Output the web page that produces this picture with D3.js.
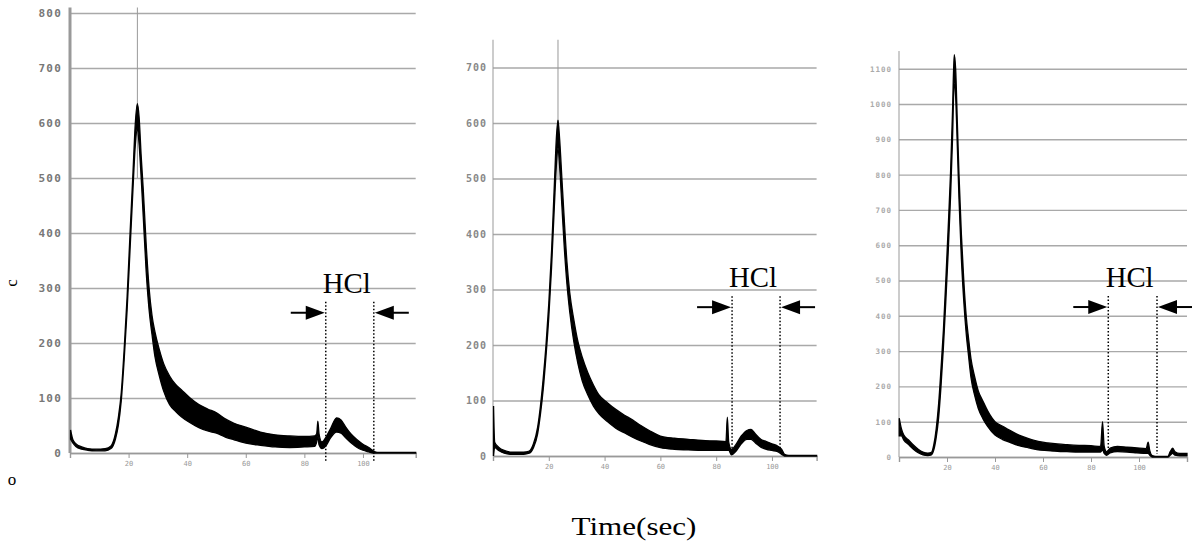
<!DOCTYPE html>
<html>
<head>
<meta charset="utf-8">
<script src="https://cdn.jsdelivr.net/npm/d3@7"></script>
<style>
body{margin:0;background:#fff;}
svg{display:block;}
</style>
</head>
<body>
<div class="chart"></div>
<script>
// 三个谱图的数据（时间 / 下包络 / 上包络）
var time1=[0.2,1,2,4,6,9,12,14,15.5,16.5,17.5,18.5,19.5,20.5,21.5,22.3,23,23.6,24.3,25,26,27,28,29,30.5,32,34,36,38,41,44,47,50,53,56,60,65,70,75,80,83.5,84.2,84.6,85,86,87.5,89,91,92.5,94,96,98,100,102,103.5,105,118];
var low1 =[25,18,12,7,5,4,4,8,25,50,95,170,260,370,480,560,590,560,500,430,330,260,215,175,140,112,88,76,66,55,46,40,36,29,24,18,14,11,10,11,12,20,30,15,8,14,28,38,36,28,18,10,5,2,0,0,0];
var high1=[42,24,17,11,8,7,8,13,35,65,110,190,285,400,510,600,635,610,540,480,380,300,250,220,188,162,140,125,115,100,88,80,73,62,54,47,38,33,31,30,31,35,58,35,20,30,45,64,60,48,34,24,16,10,4,1,1];

var time2=[0.2,0.6,2,4,7,11,13,14.5,16,17,18,19,20,21,22,22.8,23.3,23.9,24.7,25.5,26.5,27.5,29,30.5,32,34,36,38,41,44,47,50,53,56,60,65,70,75,80,83.5,84,84.5,85.5,87,89,91,92.5,94,96,98,100,102,103.5,104.5,106,116];
var low2 =[0,15,10,5,3,3,5,15,40,75,120,180,250,340,450,530,555,520,450,380,310,260,205,165,135,110,90,76,62,50,42,34,27,21,15,12,11,10,10,10,10,10,2,8,22,30,30,24,16,12,10,8,3,0,0,0];
var high2=[90,25,16,10,7,7,9,22,52,90,140,200,275,370,490,580,605,570,500,430,350,295,245,205,178,150,128,110,96,84,74,65,55,46,36,32,30,28,27,26,70,25,12,20,36,46,48,40,30,26,22,18,12,3,1,1];

var time3=[0.1,1,2,4,6,8,10,12,13.5,14.5,15.5,16.5,17.5,18.5,19.5,20.5,21.5,22.3,23,23.6,24.3,25,26,27,28,29,30,31.5,33,35,37,40,43,46,50,54,58,62,66,70,75,80,84,84.8,85.5,86.5,88,91,95,99,103,103.8,104.5,105.5,107,112,113,114,115,117,120];
var low3 =[60,60,48,35,22,12,6,4,6,20,55,110,200,310,440,580,740,900,1060,1020,880,730,560,440,350,285,225,175,138,108,86,62,50,42,32,26,20,18,16,15,14,14,14,20,10,5,12,15,14,12,10,10,5,0,0,0,5,10,5,3,3];
var high3=[110,80,62,48,34,22,14,11,13,35,80,150,250,360,500,650,810,980,1140,1100,950,800,630,500,400,335,278,228,188,158,130,100,88,76,62,52,44,40,37,35,33,32,30,100,30,15,25,30,28,26,24,42,18,4,2,2,15,25,15,10,10];

var yTicks1=[0,100,200,300,400,500,600,700,800];
var yTicks2=[0,100,200,300,400,500,600,700];
var yTicks3=[0,100,200,300,400,500,600,700,800,900,1000,1100];
var xTicks=[20,40,60,80,100];

// HCl 区间（秒）
var hclStart=[87.3,85.7,87.2];
var hclEnd=[103.7,102.9,107.5];
var peakLine=[23,23.3,null];

var svg=d3.select('div.chart')
		.append('svg')
		.attr('width',1195)
		.attr('height',542);

function Spectrum(cfg){
	var xScale=d3.scaleLinear().domain([0,cfg.tMax]).range([cfg.x0,cfg.x1]);
	var yScale=d3.scaleLinear().domain([0,cfg.yMax]).range([cfg.y0,cfg.y1]);
	var g=svg.append('g');

	//网格线
	g.append('g')
		.attr('transform','translate('+cfg.x0+',0)')
		.call(d3.axisLeft(yScale)
			.tickValues(cfg.yTicks)
			.tickSize(-(cfg.x1-cfg.x0))
			.tickPadding(cfg.labelPad)
			.tickFormat(function(d){return d;})
		)
		.call(function(a){
			a.select('.domain').remove();
			a.selectAll('.tick line').attr('stroke','#a9a9a9').attr('stroke-width',1.4);
			a.selectAll('.tick text')
				.attr('fill',cfg.labelColor)
				.attr('font-family','DejaVu Sans Mono')
				.attr('font-weight','bold')
				.attr('font-size',cfg.labelSize)
				.attr('letter-spacing',cfg.labelSpacing);
		});

	//y轴
	g.append('line')
		.attr('x1',cfg.x0).attr('x2',cfg.x0)
		.attr('y1',yScale(cfg.axisTop)).attr('y2',cfg.y0)
		.attr('stroke','#999')
		.attr('stroke-width',cfg.axisWidth);

	//x轴
	g.append('g')
		.attr('transform','translate(0,'+cfg.y0+')')
		.call(d3.axisBottom(xScale).tickValues(xTicks).tickSize(5).tickPadding(3))
		.call(function(a){
			a.select('.domain').attr('stroke','#999').attr('stroke-width',1.4);
			a.selectAll('.tick line').attr('stroke','#999');
			a.selectAll('.tick text')
				.attr('fill','#999')
				.attr('font-family','DejaVu Sans Mono')
				.attr('font-size',7);
		});

	if(cfg.peak!=null){
		g.append('line')
			.attr('x1',xScale(cfg.peak)).attr('x2',xScale(cfg.peak))
			.attr('y1',yScale(cfg.axisTop)).attr('y2',yScale(500))
			.attr('stroke','#999')
			.attr('stroke-width',1);
	}

	//谱线
	var rows=cfg.time.map(function(t,i){return {t:t,lo:cfg.low[i],hi:cfg.high[i]};});
	g.append('path')
		.datum(rows)
		.attr('d',d3.area()
			.x(function(d){return xScale(d.t);})
			.y0(function(d){return yScale(d.lo);})
			.y1(function(d){return yScale(d.hi);})
			.curve(d3.curveMonotoneX))
		.attr('fill','#000')
		.attr('stroke','#000')
		.attr('stroke-width',1.3);

	//HCl 标注
	var xa=xScale(cfg.hcl[0]);
	var xb=xScale(cfg.hcl[1]);
	var top=yScale(cfg.dotTop);
	[xa,xb].forEach(function(x){
		g.append('line')
			.attr('x1',x).attr('x2',x)
			.attr('y1',top).attr('y2',cfg.dotBottom)
			.attr('stroke','#000')
			.attr('stroke-width',1.5)
			.attr('stroke-dasharray','1.5,2');
	});
	var ya=top+11;
	function arrow(from,to){
		var dir=to>from?1:-1;
		g.append('line')
			.attr('x1',from).attr('x2',to-dir*16)
			.attr('y1',ya).attr('y2',ya)
			.attr('stroke','#000').attr('stroke-width',2);
		g.append('path')
			.attr('d','M'+to+','+ya+'L'+(to-dir*19)+','+(ya-7)+'L'+(to-dir*19)+','+(ya+7)+'Z')
			.attr('fill','#000');
	}
	arrow(xa-35,xa-1);
	arrow(xb+35,xb+1);
	g.append('text')
		.attr('x',(xa+xb)/2-3)
		.attr('y',top-9)
		.attr('text-anchor','middle')
		.attr('font-family','Liberation Serif')
		.attr('font-size','29px')
		.attr('textLength',48)
		.attr('lengthAdjust','spacingAndGlyphs')
		.text('HCl');
}

Spectrum({time:time1,low:low1,high:high1,yTicks:yTicks1,tMax:118,yMax:800,axisTop:810,
	x0:70,x1:415.7,y0:453,y1:13,labelPad:8,labelSize:11,labelSpacing:1.2,labelColor:'#777',axisWidth:3,
	peak:peakLine[0],hcl:[hclStart[0],hclEnd[0]],dotTop:275,dotBottom:462});
Spectrum({time:time2,low:low2,high:high2,yTicks:yTicks2,tMax:116,yMax:700,axisTop:750,
	x0:493,x1:816.6,y0:456,y1:67.5,labelPad:6,labelSize:10,labelSpacing:1,labelColor:'#888',axisWidth:1,
	peak:peakLine[1],hcl:[hclStart[1],hclEnd[1]],dotTop:288,dotBottom:451});
Spectrum({time:time3,low:low3,high:high3,yTicks:yTicks3,tMax:120,yMax:1100,axisTop:1150,
	x0:899,x1:1187,y0:457,y1:68.7,labelPad:7,labelSize:7.5,labelSpacing:1,labelColor:'#aaa',axisWidth:1,
	peak:peakLine[2],hcl:[hclStart[2],hclEnd[2]],dotTop:456,dotBottom:454});

svg.append('text')
	.attr('x',634)
	.attr('y',535)
	.attr('text-anchor','middle')
	.attr('font-family','Liberation Serif')
	.attr('font-size','26px')
	.attr('textLength',125)
	.attr('lengthAdjust','spacingAndGlyphs')
	.text('Time(sec)');

svg.append('text')
	.attr('transform','translate(17,283) rotate(-90)')
	.attr('text-anchor','middle')
	.attr('font-family','Liberation Serif')
	.attr('font-size','17px')
	.text('c');
svg.append('text')
	.attr('x',12)
	.attr('y',485)
	.attr('text-anchor','middle')
	.attr('font-family','Liberation Serif')
	.attr('font-size','17px')
	.text('o');
</script>
</body>
</html>
